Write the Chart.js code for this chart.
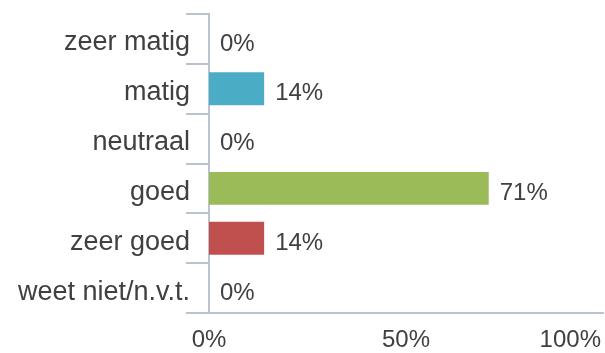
<!DOCTYPE html>
<html>
<head>
<meta charset="utf-8">
<script src="https://cdn.jsdelivr.net/npm/chart.js@4"></script>
<style>
  html, body { margin: 0; padding: 0; background: #fff; }
  #wrap { width: 605px; height: 353px; }
</style>
</head>
<body>
<div id="wrap"><canvas id="chart" width="605" height="353"></canvas></div>
<script>
const categories = ["zeer matig", "matig", "neutraal", "goed", "zeer goed", "weet niet/n.v.t."];
const percentages = [0, 14, 0, 71, 14, 0];
const xTicks = [0, 50, 100];

const barColors = ["#4bacc6", "#4bacc6", "#4bacc6", "#9bbb59", "#c0504d", "#4bacc6"];
const axisColor = "#bac4d0";
const textColor = "#404040";
const fontFamily = "'Liberation Sans', Arial, sans-serif";

// value labels to the right of each bar, x-axis labels kept inside the canvas
const labelPlugin = {
  id: "labels",
  afterDraw(chart) {
    const ctx = chart.ctx;
    ctx.save();
    ctx.font = "24px " + fontFamily;
    ctx.fillStyle = textColor;
    ctx.textBaseline = "middle";
    ctx.textAlign = "left";
    chart.getDatasetMeta(0).data.forEach((bar, i) => {
      ctx.fillText(percentages[i] + "%", bar.x + 11, bar.y + 5);
    });

    const xs = chart.scales.x;
    ctx.textAlign = "center";
    xTicks.forEach(v => {
      const text = v + "%";
      const w = ctx.measureText(text).width;
      let px = xs.getPixelForValue(v);
      px = Math.min(px, chart.width - 4 - w / 2);
      ctx.fillText(text, px, chart.chartArea.bottom + 27);
    });
    ctx.restore();
  }
};

new Chart(document.getElementById("chart"), {
  type: "bar",
  data: {
    labels: categories,
    datasets: [{
      data: percentages,
      backgroundColor: barColors,
      borderWidth: 0,
      categoryPercentage: 1,
      barPercentage: 0.66
    }]
  },
  options: {
    indexAxis: "y",
    responsive: false,
    animation: false,
    layout: { padding: { top: 14, right: 2, left: 0, bottom: 0 } },
    plugins: {
      legend: { display: false },
      tooltip: { enabled: false }
    },
    scales: {
      x: {
        min: 0,
        max: 100,
        afterFit(scale) { scale.height = 40; },
        grid: { display: false },
        border: { display: true, color: axisColor, width: 2 },
        ticks: { display: false, stepSize: 50 }
      },
      y: {
        afterFit(scale) { scale.width = 209; },
        grid: {
          offset: true,
          drawOnChartArea: false,
          drawTicks: true,
          tickLength: 23,
          color: axisColor,
          lineWidth: 2
        },
        border: { display: true, color: axisColor, width: 2 },
        ticks: {
          color: textColor,
          padding: -4,
          labelOffset: 4,
          font: { family: fontFamily, size: 27 }
        }
      }
    }
  },
  plugins: [labelPlugin]
});
</script>
</body>
</html>
